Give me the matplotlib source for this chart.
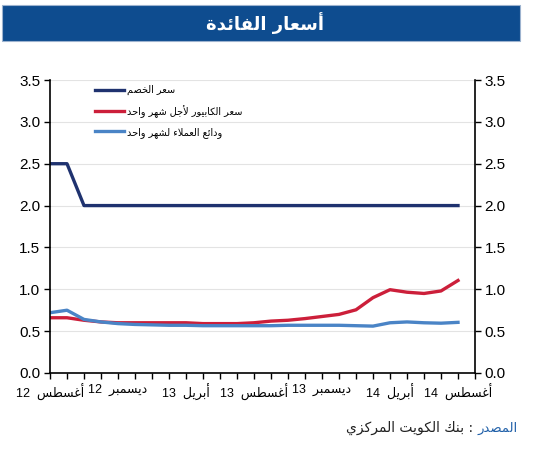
import re
import matplotlib
matplotlib.use('Agg')
import matplotlib.pyplot as plt

# --- simple Arabic shaping (presentation forms) + visual ordering ---
FORMS = {
    'ء': (0xFE80,), 'آ': (0xFE81, 0xFE82), 'أ': (0xFE83, 0xFE84), 'ؤ': (0xFE85, 0xFE86),
    'إ': (0xFE87, 0xFE88), 'ئ': (0xFE89, 0xFE8A, 0xFE8B, 0xFE8C), 'ا': (0xFE8D, 0xFE8E),
    'ب': (0xFE8F, 0xFE90, 0xFE91, 0xFE92), 'ة': (0xFE93, 0xFE94),
    'ت': (0xFE95, 0xFE96, 0xFE97, 0xFE98), 'ث': (0xFE99, 0xFE9A, 0xFE9B, 0xFE9C),
    'ج': (0xFE9D, 0xFE9E, 0xFE9F, 0xFEA0), 'ح': (0xFEA1, 0xFEA2, 0xFEA3, 0xFEA4),
    'خ': (0xFEA5, 0xFEA6, 0xFEA7, 0xFEA8), 'د': (0xFEA9, 0xFEAA), 'ذ': (0xFEAB, 0xFEAC),
    'ر': (0xFEAD, 0xFEAE), 'ز': (0xFEAF, 0xFEB0), 'س': (0xFEB1, 0xFEB2, 0xFEB3, 0xFEB4),
    'ش': (0xFEB5, 0xFEB6, 0xFEB7, 0xFEB8), 'ص': (0xFEB9, 0xFEBA, 0xFEBB, 0xFEBC),
    'ض': (0xFEBD, 0xFEBE, 0xFEBF, 0xFEC0), 'ط': (0xFEC1, 0xFEC2, 0xFEC3, 0xFEC4),
    'ظ': (0xFEC5, 0xFEC6, 0xFEC7, 0xFEC8), 'ع': (0xFEC9, 0xFECA, 0xFECB, 0xFECC),
    'غ': (0xFECD, 0xFECE, 0xFECF, 0xFED0), 'ف': (0xFED1, 0xFED2, 0xFED3, 0xFED4),
    'ق': (0xFED5, 0xFED6, 0xFED7, 0xFED8), 'ك': (0xFED9, 0xFEDA, 0xFEDB, 0xFEDC),
    'ل': (0xFEDD, 0xFEDE, 0xFEDF, 0xFEE0), 'م': (0xFEE1, 0xFEE2, 0xFEE3, 0xFEE4),
    'ن': (0xFEE5, 0xFEE6, 0xFEE7, 0xFEE8), 'ه': (0xFEE9, 0xFEEA, 0xFEEB, 0xFEEC),
    'و': (0xFEED, 0xFEEE), 'ى': (0xFEEF, 0xFEF0), 'ي': (0xFEF1, 0xFEF2, 0xFEF3, 0xFEF4),
}
LAM_ALEF = {'آ': (0xFEF5, 0xFEF6), 'أ': (0xFEF7, 0xFEF8), 'إ': (0xFEF9, 0xFEFA), 'ا': (0xFEFB, 0xFEFC)}


def joins_next(c):
    return c in FORMS and len(FORMS[c]) == 4


def shape(text):
    out = []
    i = 0
    while i < len(text):
        c = text[i]
        prev = text[i - 1] if i > 0 else ''
        jp = joins_next(prev)
        if c == 'ل' and i + 1 < len(text) and text[i + 1] in LAM_ALEF:
            f = LAM_ALEF[text[i + 1]]
            out.append(chr(f[1] if jp else f[0]))
            i += 2
            continue
        if c in FORMS:
            f = FORMS[c]
            nxt = text[i + 1] if i + 1 < len(text) else ''
            jn = joins_next(c) and nxt in FORMS
            if len(f) == 1:
                out.append(chr(f[0]))
            elif jp and jn:
                out.append(chr(f[3]))
            elif jn:
                out.append(chr(f[2]))
            elif jp:
                out.append(chr(f[1]))
            else:
                out.append(chr(f[0]))
        else:
            out.append(c)
        i += 1
    return ''.join(out)


def ar(text):
    s = shape(text)
    parts = re.findall(r'[0-9.]+|[^0-9.]+', s)
    return ''.join(p if re.match(r'[0-9.]', p) else p[::-1] for p in reversed(parts))


AR_FONT = ['DejaVu Sans']
MIXED = ['Liberation Sans', 'DejaVu Sans']
plt.rcParams['font.family'] = MIXED

# --- data (monthly, Aug 2012 .. Aug 2014) ---
discount = [2.5, 2.5, 2.0, 2.0, 2.0, 2.0, 2.0, 2.0, 2.0, 2.0, 2.0, 2.0, 2.0,
            2.0, 2.0, 2.0, 2.0, 2.0, 2.0, 2.0, 2.0, 2.0, 2.0, 2.0, 2.0]
kibor = [0.66, 0.66, 0.63, 0.61, 0.60, 0.60, 0.60, 0.60, 0.60, 0.59, 0.59, 0.59, 0.60,
         0.62, 0.63, 0.65, 0.675, 0.70, 0.755, 0.90, 0.995, 0.965, 0.95, 0.98, 1.105]
deposits = [0.72, 0.75, 0.64, 0.61, 0.59, 0.58, 0.575, 0.57, 0.57, 0.565, 0.565, 0.565, 0.565,
            0.565, 0.57, 0.57, 0.57, 0.57, 0.565, 0.56, 0.60, 0.61, 0.60, 0.595, 0.605]
tick_pos = [0, 4, 8, 12, 16, 20, 24]
tick_labels = ['أغسطس 12', 'ديسمبر 12', 'أبريل 13', 'أغسطس 13', 'ديسمبر 13', 'أبريل 14', 'أغسطس 14']
series_names = ['سعر الخصم', 'سعر الكابيور لأجل شهر واحد', 'ودائع العملاء لشهر واحد']
title = 'أسعار الفائدة'

fig = plt.figure(figsize=(5.37, 4.5), dpi=100)

# title bar
fig.patches.append(plt.Rectangle((2 / 537, 1 - 41 / 450), 518 / 537, 36 / 450,
                                 transform=fig.transFigure, facecolor='#0E4C8F',
                                 edgecolor='#9DB3CF', lw=0.8))
fig.text(265 / 537, 1 - 23 / 450, ar(title), color='white', fontsize=13, fontweight='bold',
         ha='center', va='center', family=AR_FONT)

ax = fig.add_axes([50 / 537, 1 - 373 / 450, 425 / 537, 293 / 450])
x = list(range(len(discount)))
ax.plot(x, discount, color='#1F326F', lw=2.4, label=ar(series_names[0]))
ax.plot(x, kibor, color='#CC1F3A', lw=2.4, label=ar(series_names[1]))
ax.plot(x, deposits, color='#4A84C6', lw=2.4, label=ar(series_names[2]))

ax.set_xlim(0, 25)
ax.set_ylim(0, 3.5)
ax.set_yticks([0, 0.5, 1.0, 1.5, 2.0, 2.5, 3.0, 3.5])
ax.set_yticklabels(['%.1f' % v for v in ax.get_yticks()])
ax.yaxis.set_ticks_position('both')
ax.tick_params(axis='y', which='both', labelleft=True, labelright=True, labelsize=11,
               direction='out', length=4, width=1, pad=3, colors='black')
ax.set_xticks(range(26), minor=True)
ax.set_xticks(tick_pos)
# the tails of final letters overhang to the left, so leave a wider gap before the year
ax.set_xticklabels([ar(t).replace(' ', '  ') for t in tick_labels], family=MIXED, fontsize=9)
ax.tick_params(axis='x', which='both', direction='out', length=4, width=1, pad=4)
ax.grid(axis='y', color='#E3E3E3', lw=0.8)
ax.set_axisbelow(True)
ax.spines['top'].set_visible(False)
for s in ['left', 'right', 'bottom']:
    ax.spines[s].set_linewidth(1.2)

ax.legend(loc='upper left', bbox_to_anchor=(0.09, 1.005), frameon=False,
          prop={'family': AR_FONT, 'size': 7},
          handlelength=3.0, handletextpad=0.25, labelspacing=0.95, borderaxespad=0.3)

fig.text(518 / 537, 1 - 428 / 450, ar('المصدر'), color='#1F5FA8', fontsize=9.5,
         ha='right', va='center', family=AR_FONT)
fig.text(473 / 537, 1 - 428 / 450, ar('بنك الكويت المركزي') + ' :', color='#222222',
         fontsize=10, ha='right', va='center', family=AR_FONT)

fig.savefig('out.png', dpi=100)
